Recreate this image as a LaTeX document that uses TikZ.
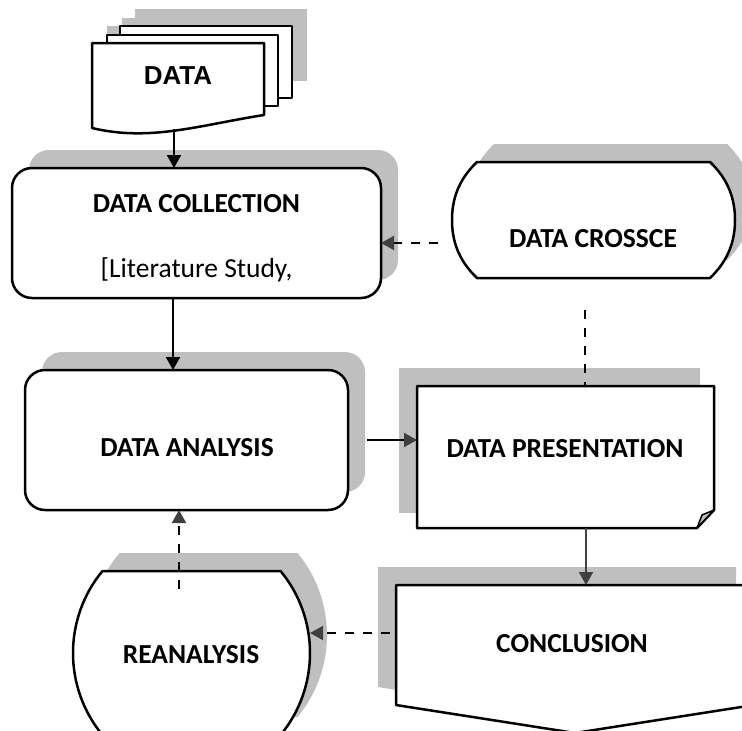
\documentclass[tikz,border=0pt]{standalone}
\usepackage{fontspec}
\setmainfont{Carlito}
\newfontfamily\arialfont{Liberation Sans}
\usetikzlibrary{arrows.meta,calc}
\definecolor{shd}{HTML}{BFBFBF}
\definecolor{tipc}{HTML}{404040}
\tikzset{
  outline/.style={draw=black, line width=2.5pt, fill=white, line join=round},
  hold/.style={rectangle, draw=none, inner sep=0pt, outer sep=0pt},
  lbl/.style={inner sep=0pt, anchor=base, font=\fontsize{27.5}{32}\selectfont\bfseries},
  plainlbl/.style={inner sep=0pt, anchor=base, font=\fontsize{27.5}{32}\selectfont},
  conn/.style={line width=2pt, -{Triangle[width=14pt,length=13pt]}},
  gconn/.style={line width=2pt, draw=tipc, -{Triangle[width=14pt,length=13pt,color=tipc]}},
  dconn/.style={line width=2pt, dash pattern=on 9pt off 9pt, -{Triangle[width=14pt,length=13pt,color=tipc]}},
  dline/.style={line width=2pt, dash pattern=on 9pt off 9pt},
}
\begin{document}
\begin{tikzpicture}[x=1pt,y=-1pt]
\useasboundingbox (0,0) rectangle (742,731);
\clip (0,0) rectangle (742,731);
\fill[white] (0,0) rectangle (742,731);

% ---------- DATA (multi-document) ----------
\fill[shd] (135,9) rectangle (307,81);
\fill[shd] (122,18) rectangle (293,89);
\fill[shd] (107,26) -- (279,26) -- (279,98) .. controls (215,108) and (165,125) .. (107,111) -- cycle;
\draw[outline] (120,26) rectangle (292,98);
\draw[outline] (107,35) rectangle (278,106);
\draw[outline] (92,43) -- (264,43) -- (264,115) .. controls (200,125) and (150,142) .. (92,128) -- cycle;
\node[hold, minimum width=172pt, minimum height=86pt] (datadoc) at (178,86) {};
\node[inner sep=0pt, anchor=base, font=\arialfont\bfseries\fontsize{26}{30}\selectfont] (datalbl) at (178,84) {DATA};

% ---------- DATA COLLECTION ----------
\fill[shd, rounded corners=20pt] (29,150) rectangle (398,280);
\node[outline, rectangle, rounded corners=20pt, inner sep=0pt, outer sep=0pt,
      minimum width=369pt, minimum height=130pt] (coll) at (196.5,233) {};
\node[lbl] (colltitle) at (196.5,212) {DATA COLLECTION};
\node[plainlbl] (collsub) at (196.5,277) {[Literature Study,};

% ---------- DATA CROSSCE ----------
\fill[shd] (494,144) -- (727,144) .. controls (746,162) and (752,182) .. (752,202)
  .. controls (752,222) and (746,242) .. (727,260) -- (494,260)
  .. controls (475,242) and (469,222) .. (469,202) .. controls (469,182) and (475,162) .. (494,144) -- cycle;
\draw[outline] (477,162) -- (710,162) .. controls (729,180) and (735,200) .. (735,220)
  .. controls (735,240) and (729,260) .. (710,278) -- (477,278)
  .. controls (458,260) and (452,240) .. (452,220) .. controls (452,200) and (458,180) .. (477,162) -- cycle;
\node[hold, minimum width=283pt, minimum height=116pt] (cross) at (593.5,220) {};
\node[lbl] (crosslbl) at (593,247) {DATA CROSSCE};

% ---------- DATA ANALYSIS ----------
\fill[shd, rounded corners=20pt] (42,352) rectangle (365,492);
\node[outline, rectangle, rounded corners=20pt, inner sep=0pt, outer sep=0pt,
      minimum width=323pt, minimum height=140pt] (an) at (186.5,440) {};
\node[lbl] (anlbl) at (187,456) {DATA ANALYSIS};

% ---------- DATA PRESENTATION ----------
\fill[shd] (399,368) rectangle (700,513);
\draw[outline] (417,386) -- (714,386) -- (714,510) -- (697,528) -- (417,528) -- cycle;
\filldraw[fill=shd, draw=black, line width=1.5pt, line join=round] (697,528) -- (702,515) -- (714,510) -- cycle;
\node[hold, minimum width=297pt, minimum height=142pt] (pres) at (565.5,457) {};
\node[lbl] (preslbl) at (565,457) {DATA PRESENTATION};

% ---------- CONCLUSION ----------
\fill[shd] (378,567) -- (736,567) -- (736,687) -- (557,715) -- (378,687) -- cycle;
\draw[outline] (396,585) -- (754,585) -- (754,705) -- (575,733) -- (396,705) -- cycle;
\node[hold, minimum width=358pt, minimum height=148pt] (conc) at (575,659) {};
\node[lbl] (conclbl) at (572,652) {CONCLUSION};

% ---------- REANALYSIS ----------
\fill[shd] (297.5,553) .. controls (316.5,575.7) and (327,605) .. (327,635)
  .. controls (327,665) and (316.5,694.3) .. (297.5,717) -- (119.5,717)
  .. controls (100.5,694.3) and (90,665) .. (90,635) .. controls (90,605) and (100.5,575.7) .. (119.5,553) -- cycle;
\draw[outline] (280.5,571) .. controls (299.5,593.7) and (310,623) .. (310,653)
  .. controls (310,683) and (299.5,712.3) .. (280.5,735) -- (102.5,735)
  .. controls (83.5,712.3) and (73,683) .. (73,653) .. controls (73,623) and (83.5,593.7) .. (102.5,571) -- cycle;
\node[hold, minimum width=237pt, minimum height=164pt] (re) at (191.5,653) {};
\node[lbl] (relbl) at (191,663) {REANALYSIS};

% ---------- connectors ----------
\coordinate (ax) at (174,0);
\coordinate (bx) at (173,0);
\coordinate (cy) at (0,243);
\coordinate (dx) at (586,0);
\coordinate (ex) at (585,310);
\coordinate (fy) at (0,633);
\coordinate (gx) at (179,0);

\draw[conn] (datadoc.south -| ax) -- (coll.north -| ax);
\draw[conn] (coll.south -| bx) -- (an.north -| bx);
\draw[dconn, shorten <=14pt] (cross.west |- cy) -- (coll.east |- cy);
\draw[conn, -{Triangle[width=14pt,length=13pt,color=tipc]}, shorten <=19pt] (an.east) -- (pres.west |- an.east);
\draw[gconn] (pres.south -| dx) -- (conc.north -| dx);
\draw[dline] (ex) -- (pres.north -| ex);
\draw[dconn, shorten <=6pt] (conc.west |- fy) -- (re.east |- fy);
\draw[dconn, shorten <=-18pt] (re.north -| gx) -- (an.south -| gx);
\end{tikzpicture}
\end{document}
